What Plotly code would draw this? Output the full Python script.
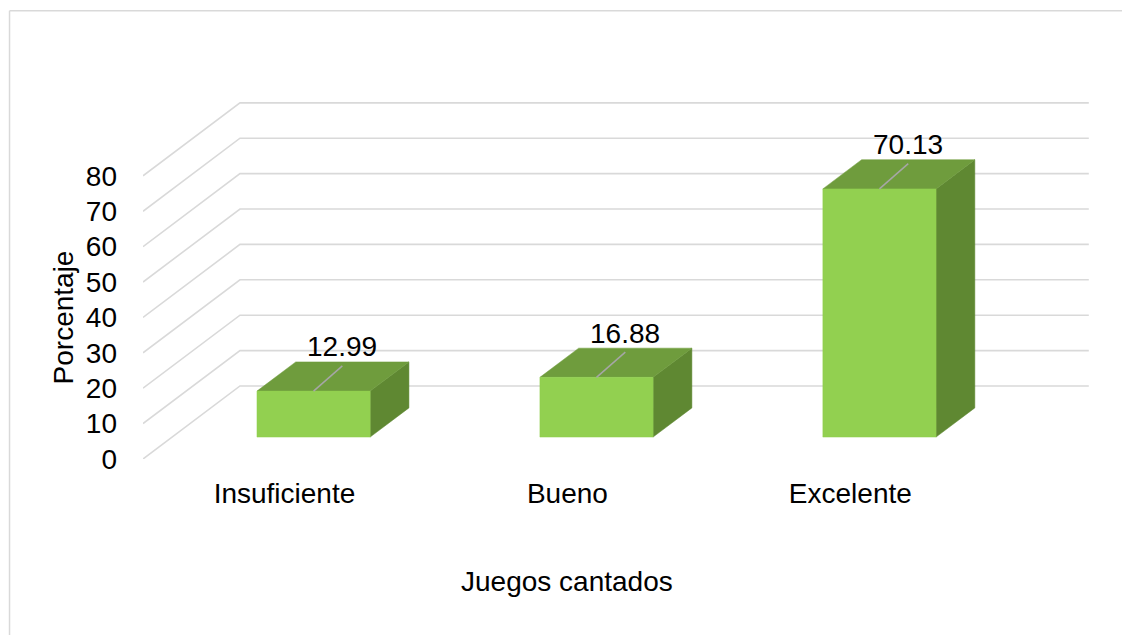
import plotly.graph_objects as go

# ---- data ----
categories = ["Insuficiente", "Bueno", "Excelente"]
values = [12.99, 16.88, 70.13]
y_ticks = [0, 10, 20, 30, 40, 50, 60, 70, 80]
x_title = "Juegos cantados"
y_title = "Porcentaje"

# ---- geometry (oblique 3D projection) ----
W, H = 1122, 635
X_LEFT_PX, SX = 143.0, 283.0       # pixel of x=-0.5, px per category unit
Y0_PX, SY = 459.0, 3.5375           # pixel of y=0 (front), px per value unit
DX, DY = 97.0 / SX, 73.0 / SY       # full depth offset in data units
BAR_HALF = 0.2
D_FRONT, D_BACK = 0.3, 0.7
FONT = dict(family="Liberation Sans, Arial, sans-serif", size=28, color="#000000")

XR = [-0.5, 2.9]
YR = [0, 115]
l = X_LEFT_PX
r = W - (X_LEFT_PX + (XR[1] - XR[0]) * SX)
b = H - Y0_PX
t = Y0_PX - (YR[1] - YR[0]) * SY

GRID = "#D9D9D9"
C_FRONT, C_TOP, C_SIDE = "#92D050", "#6F9C3D", "#5F8832"

fig = go.Figure()

# grid: left wall diagonals + back wall horizontals
gx, gy = [], []
n = len(categories)
for v in y_ticks:
    gx += [-0.5, -0.5 + DX, n - 0.5 + DX, None]
    gy += [v, v + DY, v + DY, None]
fig.add_trace(go.Scatter(x=gx, y=gy, mode="lines", line=dict(color=GRID, width=1.6),
                         hoverinfo="skip", showlegend=False))

def poly(xs, ys, color):
    fig.add_trace(go.Scatter(x=xs + [xs[0]], y=ys + [ys[0]], mode="lines", fill="toself",
                             fillcolor=color, line=dict(color=color, width=0.5),
                             hoverinfo="skip", showlegend=False))

for i, v in enumerate(values):
    xl = i - BAR_HALF + D_FRONT * DX
    xr_ = i + BAR_HALF + D_FRONT * DX
    yb = D_FRONT * DY
    ytop = v + D_FRONT * DY
    ddx = (D_BACK - D_FRONT) * DX
    ddy = (D_BACK - D_FRONT) * DY
    # side face
    poly([xr_, xr_ + ddx, xr_ + ddx, xr_], [yb, yb + ddy, ytop + ddy, ytop], C_SIDE)
    # top face
    poly([xl, xr_, xr_ + ddx, xl + ddx], [ytop, ytop, ytop + ddy, ytop + ddy], C_TOP)
    # front face
    poly([xl, xr_, xr_, xl], [yb, yb, ytop, ytop], C_FRONT)

    # leader line and data label
    fx, fy = i + D_FRONT * DX, ytop
    ex = i + D_BACK * DX - 10.0 / SX
    ey = v + D_BACK * DY - 4.0 / SY
    fig.add_trace(go.Scatter(x=[fx, ex], y=[fy, ey], mode="lines",
                             line=dict(color="#A6A6A6", width=1.5),
                             hoverinfo="skip", showlegend=False))
    fig.add_annotation(x=ex, y=ey, xref="x", yref="y", text=f"{v:.2f}", showarrow=False,
                       xanchor="center", yanchor="middle", yshift=19, font=FONT)

# axis titles
fig.add_annotation(x=(n - 1) / 2, xref="x", y=0, yref="y", yshift=-(581 - Y0_PX),
                   text=x_title, showarrow=False, font=FONT, xanchor="center", yanchor="middle")
fig.add_annotation(x=0, xref="paper", xshift=-(X_LEFT_PX - 63), y=40, yref="y",
                   text=y_title, textangle=-90, showarrow=False, font=FONT,
                   xanchor="center", yanchor="middle")

# chart border (only left and top edges visible in the frame)
pw = W - l - r
ph = H - t - b
bx0 = (9.5 - l) / pw
bx1 = (W + 20 - l) / pw
by_top = 1 - (11 - t) / ph
by_bot = 1 - (H + 20 - t) / ph
border = dict(color="#D9D9D9", width=1.5)
fig.add_shape(type="line", xref="paper", yref="paper", x0=bx0, x1=bx0, y0=by_bot, y1=by_top,
              line=border, layer="below")
fig.add_shape(type="line", xref="paper", yref="paper", x0=bx0, x1=bx1, y0=by_top, y1=by_top,
              line=border, layer="below")

fig.update_layout(
    width=W, height=H, autosize=False,
    margin=dict(l=l, r=r, t=t, b=b, pad=0),
    paper_bgcolor="white", plot_bgcolor="white",
    xaxis=dict(range=XR, tickvals=list(range(n)), ticktext=categories, showgrid=False,
               zeroline=False, showline=False, ticks="", tickfont=FONT,
               ticklabelstandoff=15, fixedrange=True),
    yaxis=dict(range=YR, tickvals=y_ticks, ticktext=[str(v) for v in y_ticks],
               showgrid=False, zeroline=False, showline=False, ticks="", tickfont=FONT,
               ticklabelstandoff=25, fixedrange=True),
    showlegend=False,
)

fig.write_html(
    "out.html",
    config={"displayModeBar": False},
    post_script="document.body.style.margin='0';document.body.style.overflow='hidden';",
)
